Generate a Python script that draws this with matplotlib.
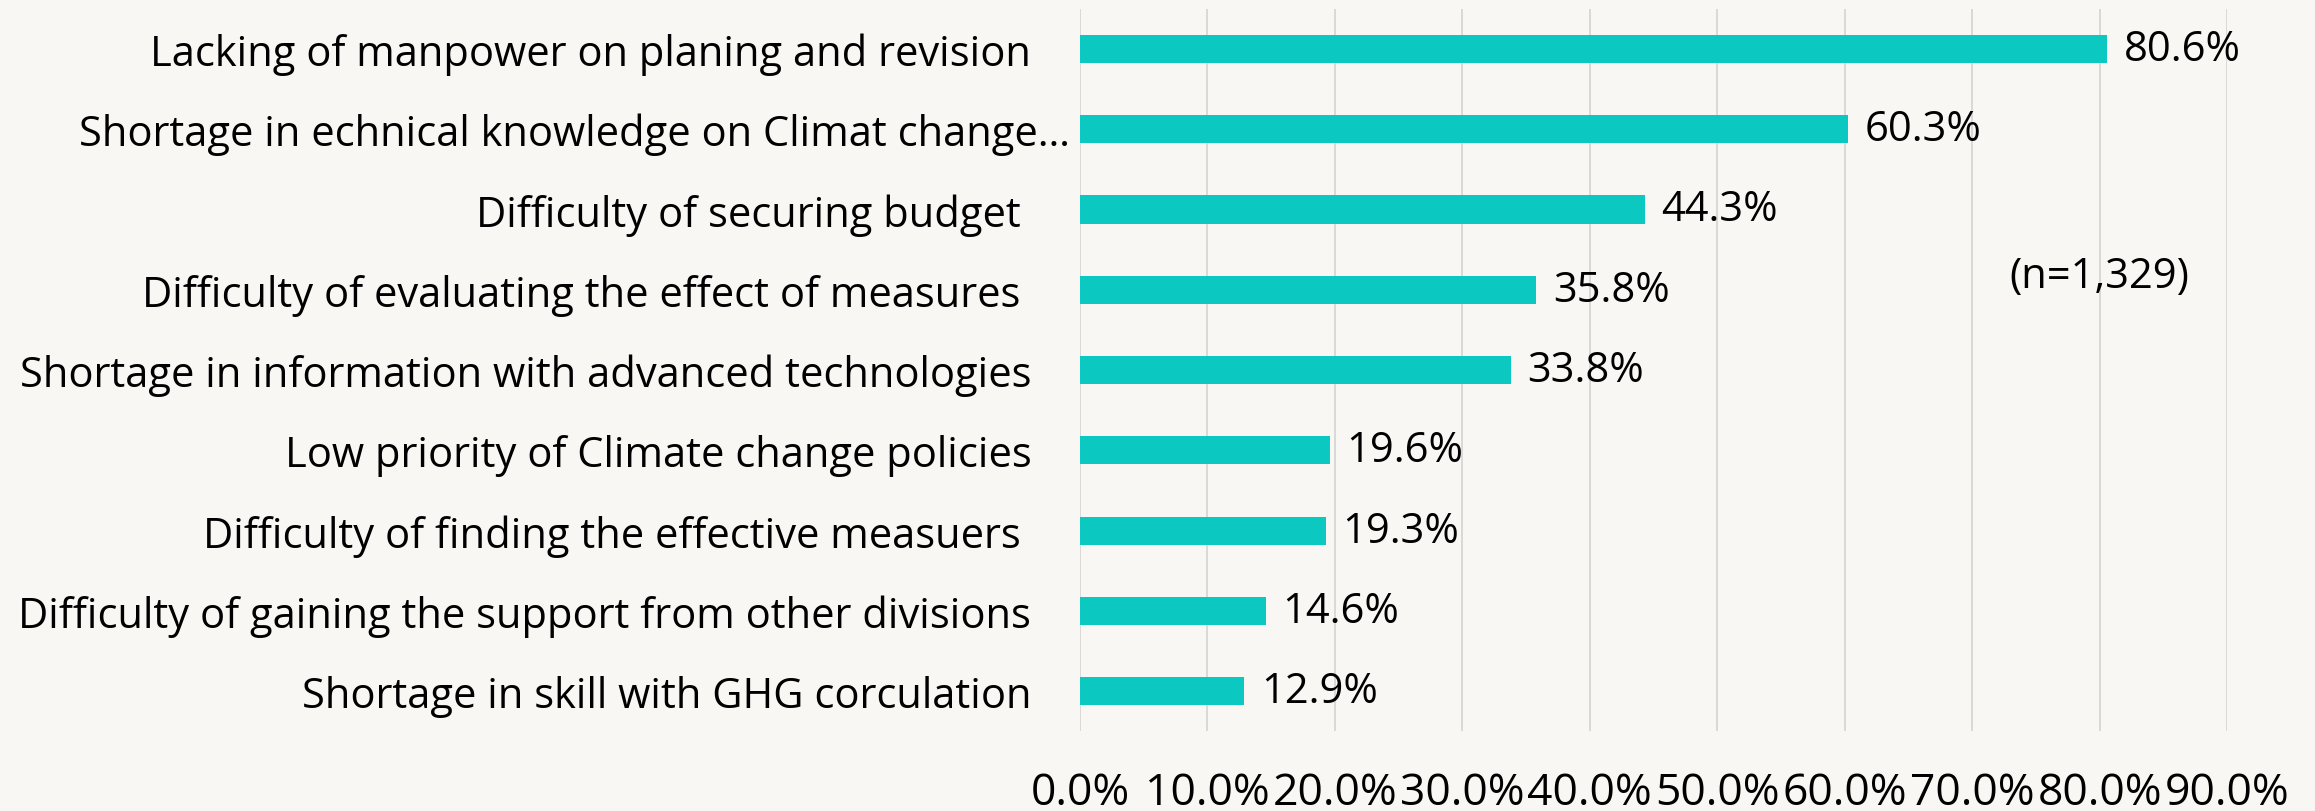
import matplotlib
matplotlib.use("Agg")
import matplotlib.pyplot as plt
from matplotlib.transforms import ScaledTranslation
import numpy as np

categories = [
    "Lacking of manpower on planing and revision",
    "Shortage in echnical knowledge on Climat change…",
    "Difficulty of securing budget ",
    "Difficulty of evaluating the effect of measures ",
    "Shortage in information with advanced technologies",
    "Low priority of Climate change policies",
    "Difficulty of finding the effective measuers ",
    "Difficulty of gaining the support from other divisions",
    "Shortage in skill with GHG corculation",
]
values = [80.6, 60.3, 44.3, 35.8, 33.8, 19.6, 19.3, 14.6, 12.9]
ticks = [0, 10, 20, 30, 40, 50, 60, 70, 80, 90]
note = "(n=1,329)"

bg = "#F9F7F3"
bar_color = "#0BC9C0"
font = ["Open Sans", "DejaVu Sans"]
fs = 30

fig = plt.figure(figsize=(23.15, 8.12), dpi=100, facecolor=bg)
ax = fig.add_axes([0.4665, 0.098, 0.4955, 0.89])
ax.set_facecolor(bg)

y = np.arange(len(categories))
ax.barh(y, values, height=0.35, color=bar_color, zorder=2)
ax.set_ylim(len(categories) - 0.5, -0.5)
ax.set_xlim(0, 90)

for yi, v in zip(y, values):
    ax.text(v + 1.3, yi, f"{v:.1f}%", va="center", ha="left",
            fontsize=fs, family=font, color="black")

ax.set_xticks(ticks)
ax.set_xticklabels([f"{t:.1f}%" for t in ticks], fontsize=32, family=font)
ax.set_yticks(y)
ax.set_yticklabels(categories, fontsize=fs, family=font)
ax.tick_params(axis="x", length=0, pad=28)
ax.tick_params(axis="y", length=0, pad=35)

# the truncated label sits closer to the axis
lbl = ax.get_yticklabels()[1]
lbl.set_transform(lbl.get_transform() + ScaledTranslation(0.39, 0, fig.dpi_scale_trans))

ax.grid(axis="x", color="#D6D6D6", linewidth=1.3, zorder=0)
for s in ax.spines.values():
    s.set_visible(False)

ax.text(80, 2.83, note, ha="center", va="center", fontsize=fs, family=font)

fig.savefig("out.png", dpi=100, facecolor=bg)
